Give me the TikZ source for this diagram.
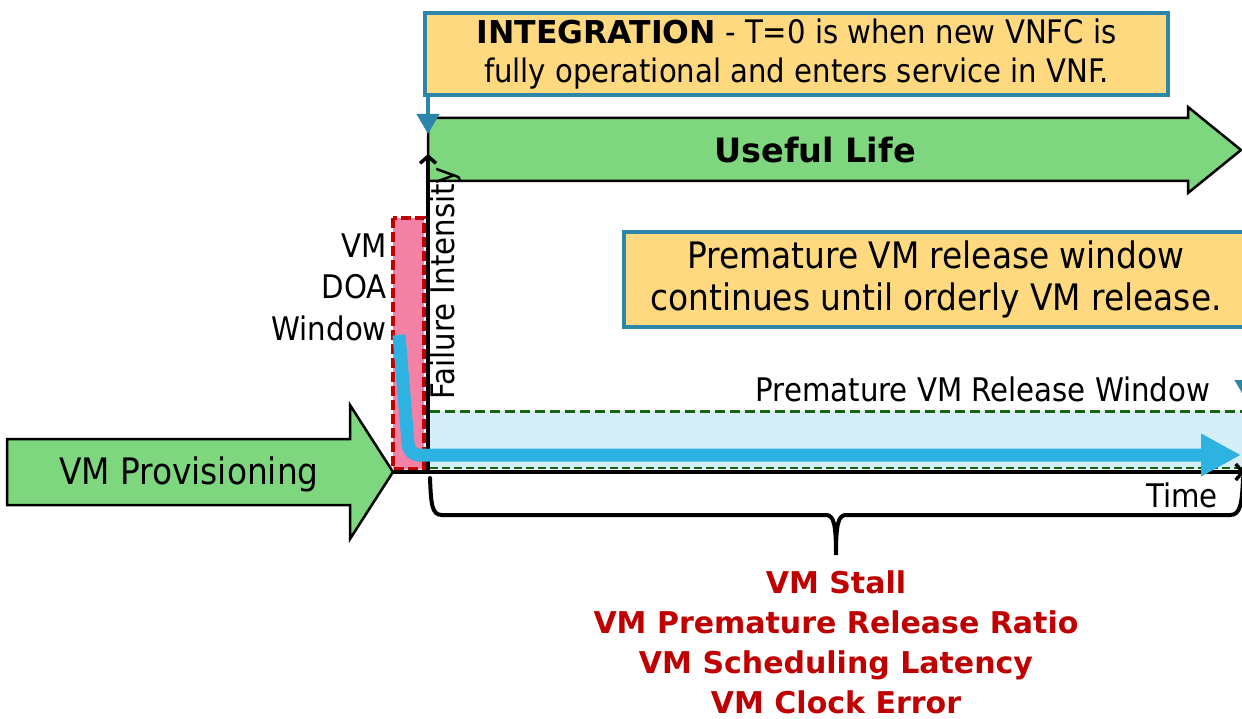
\documentclass[tikz,border=0pt]{standalone}
\usepackage{fontspec}
\setmainfont{DejaVu Sans}
\newfontfamily\cond{DejaVu Sans Condensed}
\usetikzlibrary{arrows.meta}
\definecolor{arrowgreen}{RGB}{126,214,126}
\definecolor{calloutfill}{RGB}{255,217,128}
\definecolor{calloutborder}{RGB}{43,134,169}
\definecolor{doapink}{RGB}{242,131,166}
\definecolor{doared}{RGB}{192,0,0}
\definecolor{curveblue}{RGB}{45,178,226}
\definecolor{bandblue}{RGB}{214,238,248}
\definecolor{wingreen}{RGB}{20,100,20}
\definecolor{metricred}{RGB}{192,0,0}
\begin{document}
\begin{tikzpicture}[x=1pt,y=-1pt,
  greenarrow/.style={draw=black, line width=2.5pt, fill=arrowgreen, line join=miter},
  callout/.style={draw=calloutborder, line width=4pt, fill=calloutfill, inner sep=0pt},
  calloutarrow/.style={draw=calloutborder, line width=4pt, -{Triangle[length=20pt,width=22pt]}},
  axisline/.style={draw=black, line width=3.5pt, -{Straight Barb[length=7pt,width=16pt]}},
  curve/.style={draw=curveblue, line width=13pt, rounded corners=10pt, -{Triangle[length=40pt,width=40pt]}},
  lbl/.style={font=\cond\fontsize{32.5}{41.5}\selectfont, inner sep=0pt},
  bigtxt/.style={font=\cond\fontsize{36.5}{42}\selectfont, inner sep=0pt}]
\path[use as bounding box] (0,0) rectangle (1242,719);
% premature window band
\fill[bandblue] (428,411) rectangle (1250,469);
\draw[wingreen, line width=3pt, dash pattern=on 10pt off 5pt] (430,411) -- (1250,411);
\draw[wingreen, line width=1.5pt, dash pattern=on 8pt off 4pt] (430,468) -- (1250,468);
% DOA window
\draw[doared, fill=doapink, line width=3.5pt, dash pattern=on 10pt off 4pt] (393,218) rectangle (424,469);
% useful life arrow
\draw[greenarrow] (428,118) -- (1188,118) -- (1188,107) -- (1241,150) -- (1188,193) -- (1188,181) -- (428,181) -- cycle;
\node[font=\fontsize{33.5}{40}\selectfont\bfseries, inner sep=0pt] (useful) at (815,150) {Useful Life};
% provisioning arrow
\draw[greenarrow] (7,439) -- (350,439) -- (350,405) -- (393,472) -- (350,539) -- (350,505) -- (7,505) -- cycle;
\node[bigtxt] (prov) at (189,474) {VM Provisioning};
% axes
\coordinate (O) at (428,472);
\coordinate (ytop) at (428,154);
\coordinate (xstart) at (392,472);
\coordinate (xend) at (1245,472);
\draw[axisline] (O) -- (ytop);
\draw[axisline] (xstart) -- (xend);
% failure intensity curve
\coordinate (c0) at (399,335);
\coordinate (c1) at (409,455);
\coordinate (c2) at (1241,455);
\draw[curve] (c0) -- (c1) -- (c2);
% labels
\node[lbl, align=right, anchor=east] (doa) at (387,287) {VM\\DOA\\Window};
\node[lbl, rotate=90] (fi) at (446,283) {Failure Intensity};
\node[lbl] (time) at (1182,495) {Time};
\node[lbl] (pvrw) at (983,389) {Premature VM Release Window};
% integration callout
\node[callout, minimum width=743pt, minimum height=82pt, align=center,
      font=\cond\fontsize{32.4}{38.5}\selectfont] (integ) at (796.5,54)
  {{\normalfont\fontsize{31.5}{38.5}\selectfont\bfseries INTEGRATION} - T=0 is when new VNFC is\\fully operational and enters service in VNF.};
\coordinate (t0) at (428,134);
\draw[calloutarrow] (integ.south west -| t0) -- (t0);
% premature callout
\node[callout, minimum width=624pt, minimum height=95pt, align=center, bigtxt] (prem) at (936,279.5)
  {Premature VM release window\\continues until orderly VM release.};
\coordinate (pw) at (1246,400);
\draw[calloutarrow] (prem.south -| pw) -- (pw);
% brace
\draw[line width=4pt, line cap=round] (430,478) .. controls (431,505) and (432,515) .. (442,515)
  -- (826,515) .. controls (834,515) and (836,525) .. (836,555)
  .. controls (836,525) and (838,515) .. (846,515)
  -- (1230,515) .. controls (1240,515) and (1242,505) .. (1243,478);
% metrics
\node[font=\fontsize{30}{40}\selectfont\bfseries, text=metricred, align=center, inner sep=0pt] (metrics) at (836,642)
  {VM Stall\\VM Premature Release Ratio\\VM Scheduling Latency\\VM Clock Error};
\end{tikzpicture}
\end{document}
